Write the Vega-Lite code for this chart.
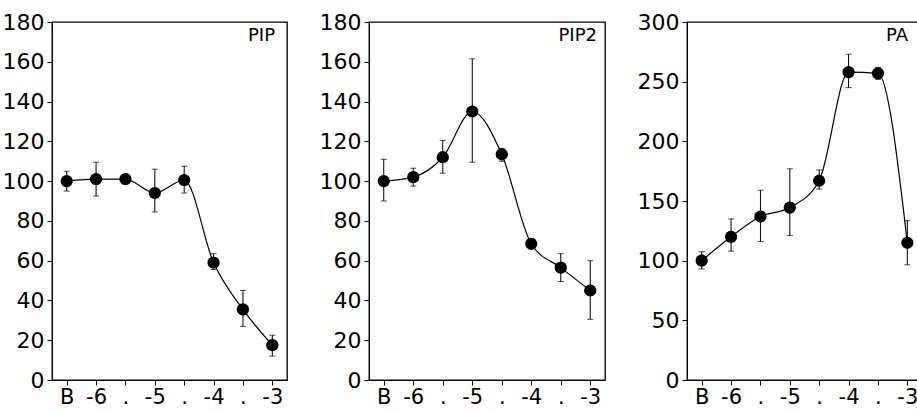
{
  "$schema": "https://vega.github.io/schema/vega-lite/v6.json",
  "background": "white",
  "padding": {"left": 1, "top": 10, "right": 0, "bottom": 0},
  "spacing": 30,
  "config": {
    "view": {"stroke": "black", "strokeWidth": 1.3},
    "axis": {
      "grid": false,
      "domainColor": "black",
      "tickColor": "black",
      "tickSize": 5,
      "labelColor": "black",
      "labelFont": "DejaVu Sans",
      "labelFontSize": 22,
      "labelPadding": 3,
      "labelOverlap": false,
      "title": null
    },
    "axisX": {"labelPadding": 1, "labelFontSize": 21},
    "title": {"font": "DejaVu Sans", "fontSize": 18, "fontWeight": "normal", "color": "black", "anchor": "end"}
  },
  "data": {
    "values": [
      {"panel": "PIP", "x": 0, "v": 100, "lo": 95, "hi": 105},
      {"panel": "PIP", "x": 1, "v": 101, "lo": 92.5, "hi": 109.5},
      {"panel": "PIP", "x": 2, "v": 101, "lo": 99, "hi": 103},
      {"panel": "PIP", "x": 3, "v": 94, "lo": 84.5, "hi": 106},
      {"panel": "PIP", "x": 4, "v": 100.5, "lo": 94, "hi": 107.5},
      {"panel": "PIP", "x": 5, "v": 59, "lo": 55.5, "hi": 63.5},
      {"panel": "PIP", "x": 6, "v": 35.5, "lo": 27, "hi": 45},
      {"panel": "PIP", "x": 7, "v": 17.5, "lo": 12, "hi": 22.5},
      {"panel": "PIP2", "x": 0, "v": 100, "lo": 90, "hi": 111},
      {"panel": "PIP2", "x": 1, "v": 102, "lo": 97.5, "hi": 106.5},
      {"panel": "PIP2", "x": 2, "v": 112, "lo": 104, "hi": 120.5},
      {"panel": "PIP2", "x": 3, "v": 135, "lo": 109.5, "hi": 161.5},
      {"panel": "PIP2", "x": 4, "v": 113.5, "lo": 110, "hi": 116.5},
      {"panel": "PIP2", "x": 5, "v": 68.5, "lo": 66, "hi": 71},
      {"panel": "PIP2", "x": 6, "v": 56.5, "lo": 49.5, "hi": 63.5},
      {"panel": "PIP2", "x": 7, "v": 45, "lo": 30.5, "hi": 60},
      {"panel": "PA", "x": 0, "v": 100, "lo": 93, "hi": 107.5},
      {"panel": "PA", "x": 1, "v": 120, "lo": 108, "hi": 135},
      {"panel": "PA", "x": 2, "v": 137, "lo": 116, "hi": 159},
      {"panel": "PA", "x": 3, "v": 144.5, "lo": 121, "hi": 177},
      {"panel": "PA", "x": 4, "v": 167, "lo": 160, "hi": 176},
      {"panel": "PA", "x": 5, "v": 258, "lo": 245, "hi": 273},
      {"panel": "PA", "x": 6, "v": 257, "lo": 252, "hi": 262},
      {"panel": "PA", "x": 7, "v": 115, "lo": 96.5, "hi": 133.5}
    ]
  },
  "hconcat": [
    {
      "width": 235, "height": 358,
      "title": {"text": "PIP", "offset": -34, "dx": -12},
      "transform": [{"filter": "datum.panel == 'PIP'"}],
      "encoding": {
        "x": {"field": "x", "type": "quantitative", "scale": {"domain": [-0.5, 7.5], "nice": false},
              "axis": {"values": [0,1,2,3,4,5,6,7], "labelExpr": "['B','-6','.','-5','.','-4','.','-3'][datum.value]", "labelFlush": false}}
      },
      "layer": [
        {"mark": {"type": "rule", "color": "black", "strokeWidth": 1},
         "encoding": {"y": {"field": "lo", "type": "quantitative", "scale": {"domain": [0, 180], "nice": false}, "axis": {"values": [0,20,40,60,80,100,120,140,160,180]}}, "y2": {"field": "hi"}}},
        {"mark": {"type": "tick", "orient": "horizontal", "size": 6, "thickness": 1, "color": "black"},
         "encoding": {"y": {"field": "lo", "type": "quantitative", "scale": {"domain": [0, 180], "nice": false}, "axis": {"values": [0,20,40,60,80,100,120,140,160,180]}}}},
        {"mark": {"type": "tick", "orient": "horizontal", "size": 6, "thickness": 1, "color": "black"},
         "encoding": {"y": {"field": "hi", "type": "quantitative", "scale": {"domain": [0, 180], "nice": false}, "axis": {"values": [0,20,40,60,80,100,120,140,160,180]}}}},
        {"mark": {"type": "line", "color": "black", "strokeWidth": 1.2, "interpolate": "monotone"},
         "encoding": {"y": {"field": "v", "type": "quantitative", "scale": {"domain": [0, 180], "nice": false}, "axis": {"values": [0,20,40,60,80,100,120,140,160,180]}}}},
        {"mark": {"type": "point", "filled": true, "color": "black", "size": 150, "opacity": 1},
         "encoding": {"y": {"field": "v", "type": "quantitative", "scale": {"domain": [0, 180], "nice": false}, "axis": {"values": [0,20,40,60,80,100,120,140,160,180]}}}}
      ]
    },
    {
      "width": 236, "height": 358,
      "title": {"text": "PIP2", "offset": -34, "dx": -8},
      "transform": [{"filter": "datum.panel == 'PIP2'"}],
      "encoding": {
        "x": {"field": "x", "type": "quantitative", "scale": {"domain": [-0.5, 7.5], "nice": false},
              "axis": {"values": [0,1,2,3,4,5,6,7], "labelExpr": "['B','-6','.','-5','.','-4','.','-3'][datum.value]", "labelFlush": false}}
      },
      "layer": [
        {"mark": {"type": "rule", "color": "black", "strokeWidth": 1},
         "encoding": {"y": {"field": "lo", "type": "quantitative", "scale": {"domain": [0, 180], "nice": false}, "axis": {"values": [0,20,40,60,80,100,120,140,160,180]}}, "y2": {"field": "hi"}}},
        {"mark": {"type": "tick", "orient": "horizontal", "size": 6, "thickness": 1, "color": "black"},
         "encoding": {"y": {"field": "lo", "type": "quantitative", "scale": {"domain": [0, 180], "nice": false}, "axis": {"values": [0,20,40,60,80,100,120,140,160,180]}}}},
        {"mark": {"type": "tick", "orient": "horizontal", "size": 6, "thickness": 1, "color": "black"},
         "encoding": {"y": {"field": "hi", "type": "quantitative", "scale": {"domain": [0, 180], "nice": false}, "axis": {"values": [0,20,40,60,80,100,120,140,160,180]}}}},
        {"mark": {"type": "line", "color": "black", "strokeWidth": 1.2, "interpolate": "monotone"},
         "encoding": {"y": {"field": "v", "type": "quantitative", "scale": {"domain": [0, 180], "nice": false}, "axis": {"values": [0,20,40,60,80,100,120,140,160,180]}}}},
        {"mark": {"type": "point", "filled": true, "color": "black", "size": 150, "opacity": 1},
         "encoding": {"y": {"field": "v", "type": "quantitative", "scale": {"domain": [0, 180], "nice": false}, "axis": {"values": [0,20,40,60,80,100,120,140,160,180]}}}}
      ]
    },
    {
      "width": 235, "height": 358,
      "title": {"text": "PA", "offset": -34, "dx": -14},
      "transform": [{"filter": "datum.panel == 'PA'"}],
      "encoding": {
        "x": {"field": "x", "type": "quantitative", "scale": {"domain": [-0.5, 7.5], "nice": false},
              "axis": {"values": [0,1,2,3,4,5,6,7], "labelExpr": "['B','-6','.','-5','.','-4','.','-3'][datum.value]", "labelFlush": false}}
      },
      "layer": [
        {"mark": {"type": "rule", "color": "black", "strokeWidth": 1},
         "encoding": {"y": {"field": "lo", "type": "quantitative", "scale": {"domain": [0, 300], "nice": false}, "axis": {"values": [0,50,100,150,200,250,300]}}, "y2": {"field": "hi"}}},
        {"mark": {"type": "tick", "orient": "horizontal", "size": 6, "thickness": 1, "color": "black"},
         "encoding": {"y": {"field": "lo", "type": "quantitative", "scale": {"domain": [0, 300], "nice": false}, "axis": {"values": [0,50,100,150,200,250,300]}}}},
        {"mark": {"type": "tick", "orient": "horizontal", "size": 6, "thickness": 1, "color": "black"},
         "encoding": {"y": {"field": "hi", "type": "quantitative", "scale": {"domain": [0, 300], "nice": false}, "axis": {"values": [0,50,100,150,200,250,300]}}}},
        {"mark": {"type": "line", "color": "black", "strokeWidth": 1.2, "interpolate": "monotone"},
         "encoding": {"y": {"field": "v", "type": "quantitative", "scale": {"domain": [0, 300], "nice": false}, "axis": {"values": [0,50,100,150,200,250,300]}}}},
        {"mark": {"type": "point", "filled": true, "color": "black", "size": 150, "opacity": 1},
         "encoding": {"y": {"field": "v", "type": "quantitative", "scale": {"domain": [0, 300], "nice": false}, "axis": {"values": [0,50,100,150,200,250,300]}}}}
      ]
    }
  ]
}
